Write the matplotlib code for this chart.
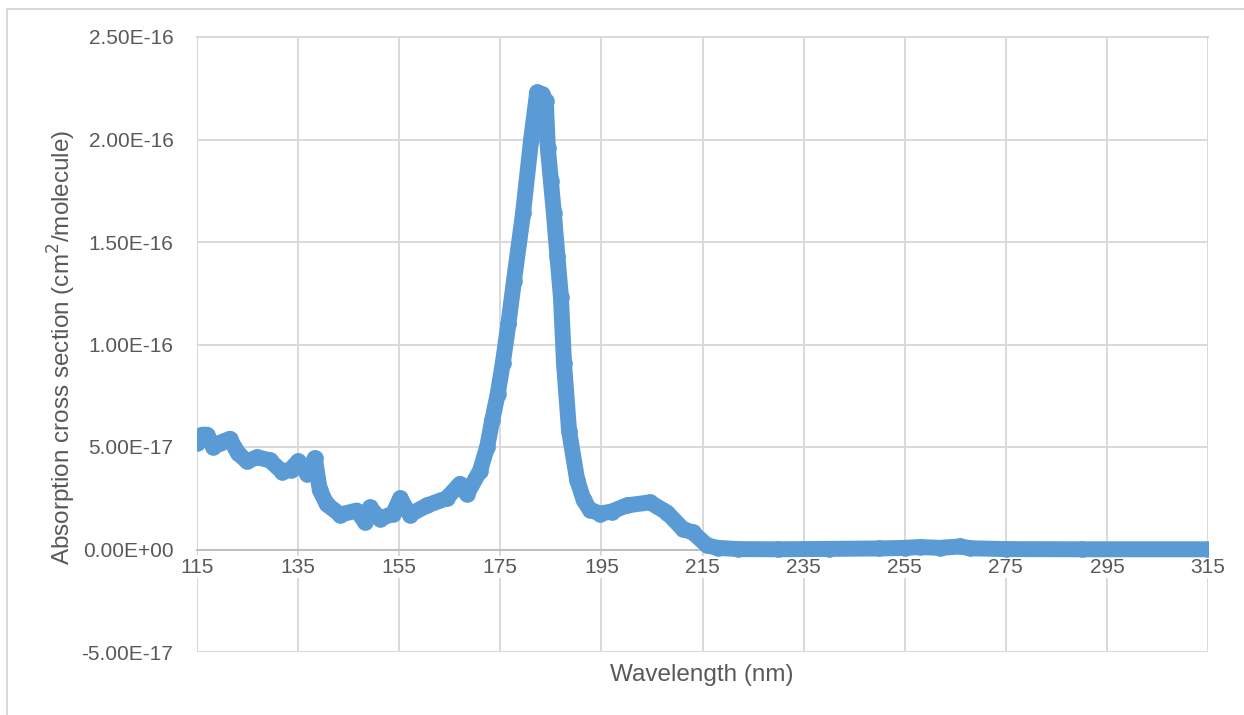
import matplotlib.pyplot as plt
from matplotlib.ticker import FuncFormatter
from matplotlib.lines import Line2D

# wavelength (nm) and absorption cross section (cm^2/molecule)
wavelength = [115.0, 116.0, 117.0, 118.2, 119.5, 121.5, 123.1, 124.9, 126.9, 129.4,
              131.8, 133.5, 135.0, 136.8, 138.3, 139.3, 140.7, 143.3, 146.6, 148.2,
              149.2, 151.2, 153.8, 155.2, 157.1, 160.5, 164.4, 167.0, 168.4, 171.0,
              172.4, 173.4, 174.5, 175.5, 176.6, 177.7, 179.5, 181.1, 182.3, 183.2,
              184.0, 184.4, 185.0, 185.6, 186.3, 187.0, 187.6, 188.6, 190.2, 191.5,
              192.7, 194.7, 197.0, 200.0, 204.6, 208.0, 211.1, 213.1, 215.9, 218.0,
              222.0, 230.0, 240.0, 250.0, 255.0, 258.0, 262.0, 266.0, 268.0, 275.0,
              290.0, 315.0]
cross_section = [5.2e-17, 5.6e-17, 5.6e-17, 5.0e-17, 5.2e-17, 5.4e-17, 4.7e-17, 4.3e-17, 4.5e-17, 4.35e-17,
                 3.8e-17, 3.9e-17, 4.3e-17, 3.7e-17, 4.45e-17, 2.9e-17, 2.2e-17, 1.7e-17, 1.9e-17, 1.35e-17,
                 2.05e-17, 1.5e-17, 1.75e-17, 2.5e-17, 1.7e-17, 2.15e-17, 2.5e-17, 3.2e-17, 2.7e-17, 3.85e-17,
                 5.0e-17, 6.3e-17, 7.6e-17, 9.1e-17, 1.1e-16, 1.31e-16, 1.64e-16, 2.0e-16, 2.23e-16, 2.22e-16,
                 2.19e-16, 1.96e-16, 1.8e-16, 1.64e-16, 1.43e-16, 1.23e-16, 9.1e-17, 5.8e-17, 3.4e-17, 2.4e-17,
                 1.95e-17, 1.75e-17, 1.85e-17, 2.15e-17, 2.3e-17, 1.8e-17, 1.0e-17, 8.3e-18, 2.0e-18, 8e-19,
                 2e-19, 1e-19, 3e-19, 5e-19, 8e-19, 1.2e-18, 8e-19, 1.5e-18, 6e-19, 2e-19,
                 1e-19, 1e-19]

x_ticks = list(range(115, 316, 20))
y_ticks = [-5e-17, 0, 5e-17, 1e-16, 1.5e-16, 2e-16, 2.5e-16]

blue = '#5B9BD5'
grid_col = '#D9D9D9'
text_col = '#595959'
font = ['Liberation Sans', 'DejaVu Sans']

fig = plt.figure(figsize=(12.44, 7.15), dpi=100)
ax = fig.add_axes([197 / 1244, 63 / 715, 1011 / 1244, 615 / 715])

ax.plot(wavelength, cross_section, '-o', color=blue, lw=11.5, ms=12,
        mew=0, solid_capstyle='round', solid_joinstyle='round', zorder=3)

ax.set_xlim(115, 315)
ax.set_ylim(-5e-17, 2.5e-16)
ax.set_xticks(x_ticks)
ax.set_yticks(y_ticks)
ax.yaxis.set_major_formatter(FuncFormatter(lambda v, p: f"{v:.2E}"))

ax.grid(True, color=grid_col, lw=1.4, zorder=0)
ax.set_axisbelow(True)

ax.spines['top'].set_color(grid_col)
ax.spines['top'].set_linewidth(1.4)
ax.spines['left'].set_visible(False)
ax.spines['right'].set_visible(False)
ax.spines['bottom'].set_position(('data', 0))
ax.spines['bottom'].set_color('#BFBFBF')
ax.spines['bottom'].set_linewidth(1.4)
# vertical axis line and bottom edge of plot area, kept under the tick labels
ax.axvline(115, color='#BFBFBF', lw=1.4, zorder=0.3)
ax.axhline(-5e-17, color=grid_col, lw=1.4, zorder=0.3)

ax.tick_params(length=0, labelsize=15, labelcolor=text_col)
ax.tick_params(axis='x', pad=6)
ax.tick_params(axis='y', pad=17)
for lab in ax.get_xticklabels() + ax.get_yticklabels():
    lab.set_family(font)
for lab in ax.get_xticklabels():
    lab.set_bbox(dict(facecolor='white', edgecolor='none', pad=1))

fig.text(702 / 1244, 1 - 675 / 715, 'Wavelength (nm)', ha='center', va='center',
         fontsize=17.5, color=text_col, family=font)
fig.text(62 / 1244, 1 - 347 / 715, 'Absorption cross section (cm$^2$/molecule)',
         ha='center', va='center', rotation=90, fontsize=17.5, color=text_col, family=font)

# outer chart frame (top and left edges visible)
fig.add_artist(Line2D([7 / 1244, 1], [1 - 9 / 715, 1 - 9 / 715], transform=fig.transFigure,
                      color=grid_col, lw=1.4))
fig.add_artist(Line2D([7 / 1244, 7 / 1244], [0, 1 - 9 / 715], transform=fig.transFigure,
                      color=grid_col, lw=1.4))

fig.savefig('out.png', dpi=100, facecolor='white')
